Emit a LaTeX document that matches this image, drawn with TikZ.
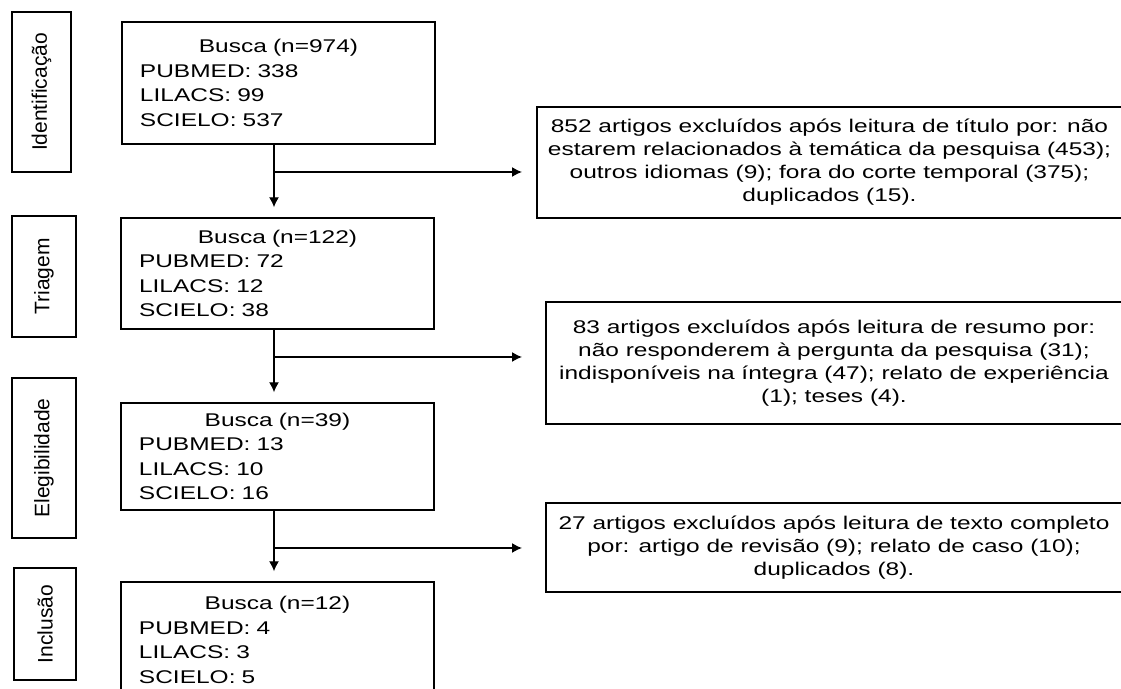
\documentclass[tikz,border=0pt]{standalone}
\usepackage{fontspec}
\setmainfont{Liberation Sans}
\newfontfamily\largo{Liberation Sans}[FakeStretch=1.33]
\usetikzlibrary{arrows.meta}

\begin{document}
\begin{tikzpicture}[x=0.5pt,y=-0.5pt,line width=0.7pt,
    fase/.style={draw,rotate=90,inner sep=0pt,font=\fontsize{10.5}{12}\selectfont},
    busca/.style={draw,inner xsep=9pt,inner ysep=0pt,text width=138.5pt,align=left,
        minimum height=#1,font=\largo\fontsize{9.2}{12.25}\selectfont},
    exclui/.style={draw,align=center,inner sep=0pt,minimum width=288pt,minimum height=#1,
        font=\largo\fontsize{9.2}{11.5}\selectfont},
    seta/.style={-{Latex[length=5pt,width=5pt]}}]
    \useasboundingbox (0,0) rectangle (1121,689);
    \clip (0,0) rectangle (1121,689);
    % fases
    \node[fase,minimum width=80pt,minimum height=29.5pt] (f1) at (41.5,92) {Identificação};
    \node[fase,minimum width=60.5pt,minimum height=32pt] (f2) at (44,276.5) {Triagem};
    \node[fase,minimum width=80pt,minimum height=32pt] (f3) at (44,458) {Elegibilidade};
    \node[fase,minimum width=56pt,minimum height=31pt] (f4) at (45,624) {Inclusão};
    % buscas
    \node[busca=61pt] (b1) at (278.5,83) {\makebox[\hsize]{Busca (n=974)}\\PUBMED: 338\\LILACS: 99\\SCIELO: 537};
    \node[busca=55.5pt] (b2) at (277.5,273.5) {\makebox[\hsize]{Busca (n=122)}\\PUBMED: 72\\LILACS: 12\\SCIELO: 38};
    \node[busca=53.5pt] (b3) at (277.5,456.5) {\makebox[\hsize]{Busca (n=39)}\\PUBMED: 13\\LILACS: 10\\SCIELO: 16};
    \node[busca=58pt] (b4) at (277.5,640) {\makebox[\hsize]{Busca (n=12)}\\PUBMED: 4\\LILACS: 3\\SCIELO: 5};
    % exclusoes
    \node[exclui=55.5pt,minimum width=292.5pt] (e1) at (829.5,162.5) {852 artigos excluídos após leitura de título por: não\\estarem relacionados à temática da pesquisa (453);\\outros idiomas (9); fora do corte temporal (375);\\duplicados (15).};
    \node[exclui=61pt] (e2) at (834,363) {83 artigos excluídos após leitura de resumo por:\\não responderem à pergunta da pesquisa (31);\\indisponíveis na íntegra (47); relato de experiência\\(1); teses (4).};
    \node[exclui=44.5pt] (e3) at (834,547.5) {27 artigos excluídos após leitura de texto completo\\por: artigo de revisão (9); relato de caso (10);\\duplicados (8).};
    % setas
    \coordinate (j1) at (274,172);
    \coordinate (j2) at (274,357);
    \coordinate (j3) at (274,548);
    \coordinate (t1) at (522,172);
    \coordinate (t2) at (522,357);
    \coordinate (t3) at (522,548);
    \draw[seta,shorten >=5pt] (b1.south -| j1) -- (b2.north -| j1);
    \draw[seta,shorten >=5pt] (b2.south -| j2) -- (b3.north -| j2);
    \draw[seta,shorten >=5pt] (b3.south -| j3) -- (b4.north -| j3);
    \draw[seta] (j1) -- (t1);
    \draw[seta] (j2) -- (t2);
    \draw[seta] (j3) -- (t3);
\end{tikzpicture}
\end{document}
